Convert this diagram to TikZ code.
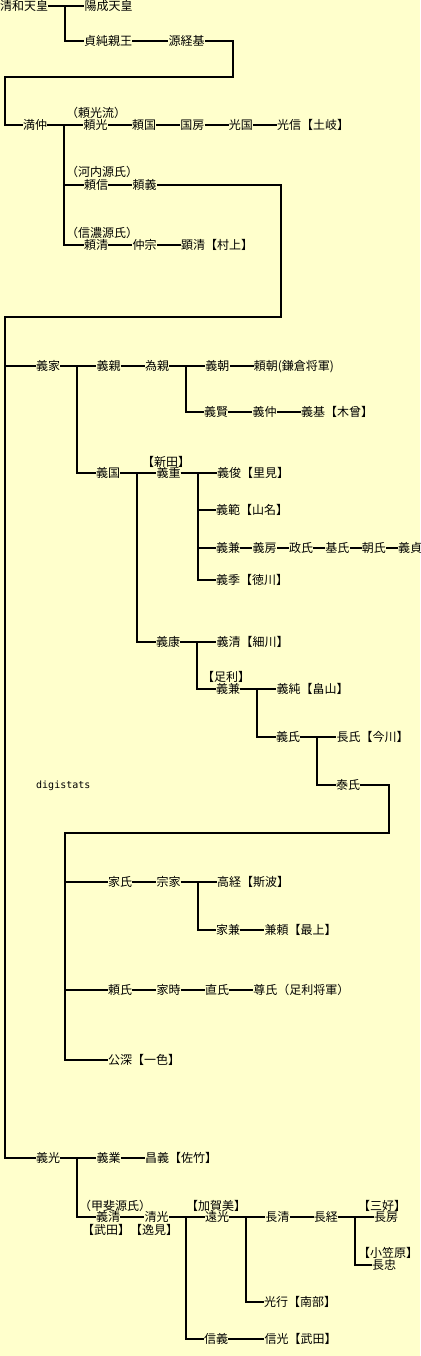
\documentclass[tikz,border=0pt]{standalone}
\usepackage{fontspec}
\setmainfont{Noto Sans CJK JP}
\newfontfamily\monofont{DejaVu Sans Mono}
\usepackage{xcolor}
\usepackage{tikz}
\usetikzlibrary{positioning}

\definecolor{paper}{HTML}{FFFFCC}

\begin{document}
\begin{tikzpicture}[
    x=1pt, y=-1pt,
    node distance=24pt,
    person/.style={inner sep=0pt, anchor=west, text height=10.5pt, text depth=1.5pt, font=\fontsize{12}{12}\selectfont},
    clan/.style={person},
    link/.style={line width=2pt}
]
\fill[paper] (0,0) rectangle (420,1356);
\useasboundingbox (0,0) rectangle (420,1356);

% Seiwa -> Tsunemoto
\node[person] (seiwa) at (0,6) {清和天皇};
\node[person, right=36pt of seiwa] (yozei) {陽成天皇};
\node[person] (sadazumi) at (84,41) {貞純親王};
\node[person, right=36pt of sadazumi] (tsunemoto) {源経基};
\draw[link] (seiwa) -- (yozei);
\draw[link] (seiwa.east) -- ++(17,0) |- (sadazumi);
\draw[link] (sadazumi) -- (tsunemoto);

% Mitsunaka and his sons
\node[person] (mitsunaka) at (23,125) {満仲};
\coordinate (c1) at (233,77);
\coordinate (c2) at (5,77);
\draw[link] (tsunemoto) -| (c1) -- (c2) |- (mitsunaka);

\node[person, right=36pt of mitsunaka] (yorimitsu) {頼光};
\node[person, right=of yorimitsu] (yorikuni) {頼国};
\node[person, right=of yorikuni] (kunifusa) {国房};
\node[person, right=of kunifusa] (mitsukuni) {光国};
\node[person, right=of mitsukuni] (mitsunobu) {光信【土岐】};
\node[clan] (yorimitsuryu) at (66,113) {（頼光流）};

\node[person] (yorinobu) at (84,185) {頼信};
\node[person, right=of yorinobu] (yoriyoshi) {頼義};
\node[clan] (kawachi) at (66,172) {（河内源氏）};

\node[person] (yorikiyo) at (84,245) {頼清};
\node[person, right=of yorikiyo] (nakamune) {仲宗};
\node[person, right=of nakamune] (akikiyo) {顕清【村上】};
\node[clan] (shinano) at (66,233) {（信濃源氏）};

\draw[link] (mitsunaka) -- (yorimitsu);
\draw[link] (mitsunaka.east) -- ++(17,0) |- (yorinobu);
\draw[link] (mitsunaka.east) -- ++(17,0) |- (yorikiyo);
\draw[link] (yorimitsu) -- (yorikuni);
\draw[link] (yorikuni) -- (kunifusa);
\draw[link] (kunifusa) -- (mitsukuni);
\draw[link] (mitsukuni) -- (mitsunobu);
\draw[link] (yorinobu) -- (yoriyoshi);
\draw[link] (yorikiyo) -- (nakamune);
\draw[link] (nakamune) -- (akikiyo);

% Yoshiie line
\node[person] (yoshiie) at (36,366) {義家};
\node[person] (yoshimitsu) at (36,1158) {義光};
\coordinate (c3) at (281,317);
\coordinate (c4) at (5,317);
\draw[link] (yoriyoshi) -| (c3) -- (c4) |- (yoshimitsu);
\draw[link] (c4) |- (yoshiie);

\node[person, right=36pt of yoshiie] (yoshichika) {義親};
\node[person, right=of yoshichika] (tamechika) {為親};
\node[person, right=36pt of tamechika] (yoshitomo) {義朝};
\node[person, right=of yoshitomo] (yoritomo) {頼朝(鎌倉将軍)};
\node[person] (yoshikata) at (204,412) {義賢};
\node[person, right=of yoshikata] (yoshinaka) {義仲};
\node[person, right=of yoshinaka] (yoshimoto) {義基【木曾】};

\draw[link] (yoshiie) -- (yoshichika);
\draw[link] (yoshichika) -- (tamechika);
\draw[link] (tamechika) -- (yoshitomo);
\draw[link] (tamechika.east) -- ++(17,0) |- (yoshikata);
\draw[link] (yoshitomo) -- (yoritomo);
\draw[link] (yoshikata) -- (yoshinaka);
\draw[link] (yoshinaka) -- (yoshimoto);

% Yoshikuni -> Nitta
\node[person] (yoshikuni) at (96,473) {義国};
\node[person, right=36pt of yoshikuni] (yoshishige) {義重};
\node[clan] (nitta) at (142,462) {【新田】};
\node[person, right=36pt of yoshishige] (yoshitoshi) {義俊【里見】};
\node[person] (yoshinori) at (216,510) {義範【山名】};
\node[person] (yoshikane) at (216,548) {義兼};
\node[person, right=12pt of yoshikane] (yoshifusa) {義房};
\node[person, right=12pt of yoshifusa] (masauji) {政氏};
\node[person, right=12pt of masauji] (motouji) {基氏};
\node[person, right=12pt of motouji] (tomouji) {朝氏};
\node[person, right=12pt of tomouji] (yoshisada) {義貞};
\node[person] (yoshisue) at (216,580) {義季【徳川】};

\draw[link] (yoshiie.east) -- ++(17,0) |- (yoshikuni);
\draw[link] (yoshikuni) -- (yoshishige);
\draw[link] (yoshishige) -- (yoshitoshi);
\draw[link] (yoshishige.east) -- ++(17,0) |- (yoshinori);
\draw[link] (yoshishige.east) -- ++(17,0) |- (yoshikane);
\draw[link] (yoshishige.east) -- ++(17,0) |- (yoshisue);
\draw[link] (yoshikane) -- (yoshifusa);
\draw[link] (yoshifusa) -- (masauji);
\draw[link] (masauji) -- (motouji);
\draw[link] (motouji) -- (tomouji);
\draw[link] (tomouji) -- (yoshisada);

% Yoshiyasu -> Ashikaga
\node[person] (yoshiyasu) at (156,642) {義康};
\node[person, right=36pt of yoshiyasu] (hosokawa) {義清【細川】};
\node[person] (ashikaga) at (216,689) {義兼};
\node[clan] (ashikagalabel) at (202,677) {【足利】};
\node[person, right=36pt of ashikaga] (yoshizumi) {義純【畠山】};
\node[person] (yoshiuji) at (276,737) {義氏};
\node[person, right=36pt of yoshiuji] (nagauji) {長氏【今川】};
\node[person] (yasuuji) at (336,785) {泰氏};

\draw[link] (yoshikuni.east) -- ++(17,0) |- (yoshiyasu);
\draw[link] (yoshiyasu) -- (hosokawa);
\draw[link] (yoshiyasu.east) -- ++(17,0) |- (ashikaga);
\draw[link] (ashikaga) -- (yoshizumi);
\draw[link] (ashikaga.east) -- ++(17,0) |- (yoshiuji);
\draw[link] (yoshiuji) -- (nagauji);
\draw[link] (yoshiuji.east) -- ++(17,0) |- (yasuuji);

\node[font=\monofont\fontsize{10}{10}\selectfont, inner sep=0pt, anchor=west] (digistats) at (36,786) {digistats};

% Yasuuji's sons
\node[person] (ieuji) at (108,882) {家氏};
\node[person, right=of ieuji] (muneie) {宗家};
\node[person, right=36pt of muneie] (takatsune) {高経【斯波】};
\node[person] (iekane) at (216,930) {家兼};
\node[person, right=of iekane] (kaneyori) {兼頼【最上】};
\node[person] (yoriuji) at (108,990) {頼氏};
\node[person, right=of yoriuji] (ietoki) {家時};
\node[person, right=of ietoki] (tadauji) {直氏};
\node[person, right=of tadauji] (takauji) {尊氏（足利将軍）};
\node[person] (kofuka) at (108,1060) {公深【一色】};

\coordinate (c5) at (389,833);
\coordinate (c6) at (65,833);
\draw[link] (yasuuji) -| (c5) -- (c6) |- (kofuka);
\draw[link] (c6) |- (ieuji);
\draw[link] (c6) |- (yoriuji);
\draw[link] (ieuji) -- (muneie);
\draw[link] (muneie) -- (takatsune);
\draw[link] (muneie.east) -- ++(17,0) |- (iekane);
\draw[link] (iekane) -- (kaneyori);
\draw[link] (yoriuji) -- (ietoki);
\draw[link] (ietoki) -- (tadauji);
\draw[link] (tadauji) -- (takauji);

% Yoshimitsu -> Kai Genji
\node[person, right=36pt of yoshimitsu] (yoshinari) {義業};
\node[person, right=of yoshinari] (masayoshi) {昌義【佐竹】};
\node[person] (takeda) at (96,1217) {義清};
\node[clan] (kaigenji) at (79,1206) {（甲斐源氏）};
\node[clan] (takedalabel) at (82,1230) {【武田】};
\node[person, right=of takeda] (kiyomitsu) {清光};
\node[clan] (henmi) at (130,1230) {【逸見】};
\node[person, right=36pt of kiyomitsu] (tomitsu) {遠光};
\node[clan] (kagami) at (186,1206) {【加賀美】};
\node[person, right=36pt of tomitsu] (nagakiyo) {長清};
\node[person, right=of nagakiyo] (nagatsune) {長経};
\node[person, right=36pt of nagatsune] (nagafusa) {長房};
\node[clan] (miyoshi) at (358,1206) {【三好】};
\node[person] (nagatada) at (372,1265) {長忠};
\node[clan] (ogasawara) at (358,1253) {【小笠原】};
\node[person] (mitsuyuki) at (264,1302) {光行【南部】};
\node[person] (nobuyoshi) at (204,1339) {信義};
\node[person, right=36pt of nobuyoshi] (nobumitsu) {信光【武田】};

\draw[link] (yoshimitsu) -- (yoshinari);
\draw[link] (yoshinari) -- (masayoshi);
\draw[link] (yoshimitsu.east) -- ++(17,0) |- (takeda);
\draw[link] (takeda) -- (kiyomitsu);
\draw[link] (kiyomitsu) -- (tomitsu);
\draw[link] (kiyomitsu.east) -- ++(17,0) |- (nobuyoshi);
\draw[link] (tomitsu) -- (nagakiyo);
\draw[link] (tomitsu.east) -- ++(17,0) |- (mitsuyuki);
\draw[link] (nagakiyo) -- (nagatsune);
\draw[link] (nagatsune) -- (nagafusa);
\draw[link] (nagatsune.east) -- ++(17,0) |- (nagatada);
\draw[link] (nobuyoshi) -- (nobumitsu);

\end{tikzpicture}
\end{document}
